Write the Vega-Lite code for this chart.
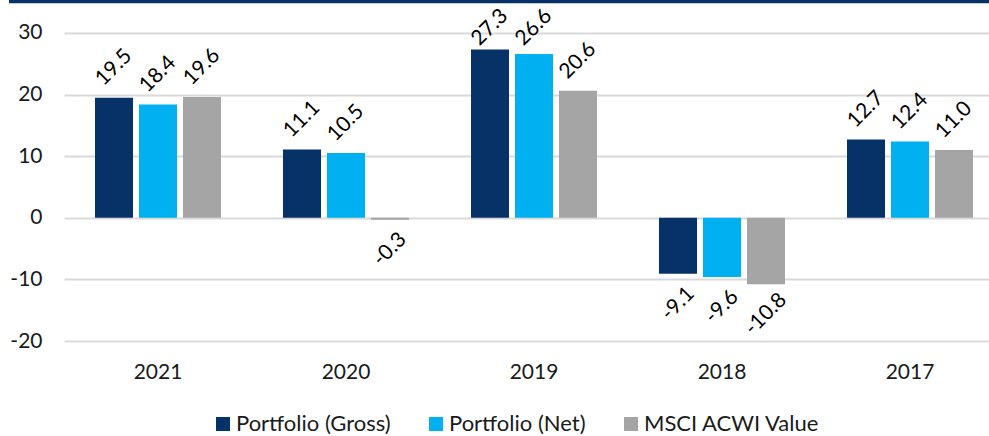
{
  "$schema": "https://vega.github.io/schema/vega-lite/v6.json",
  "width": 940,
  "height": 341,
  "autosize": {"type": "none"},
  "padding": {"left": 64, "top": 0, "right": -15, "bottom": 95},
  "background": "white",
  "config": {
    "view": {"stroke": null},
    "font": "Lato",
    "locale": {"number": {"decimal": ".", "thousands": ",", "grouping": [3], "currency": ["$", ""], "minus": "-"}},
    "axis": {"labelFont": "Lato", "labelColor": "#1a1a1a"},
    "legend": {"labelFont": "Lato"}
  },
  "data": {
    "values": [
      {"year": "2021", "series": "Portfolio (Gross)", "value": 19.5},
      {"year": "2021", "series": "Portfolio (Net)", "value": 18.4},
      {"year": "2021", "series": "MSCI ACWI Value", "value": 19.6},
      {"year": "2020", "series": "Portfolio (Gross)", "value": 11.1},
      {"year": "2020", "series": "Portfolio (Net)", "value": 10.5},
      {"year": "2020", "series": "MSCI ACWI Value", "value": -0.3},
      {"year": "2019", "series": "Portfolio (Gross)", "value": 27.3},
      {"year": "2019", "series": "Portfolio (Net)", "value": 26.6},
      {"year": "2019", "series": "MSCI ACWI Value", "value": 20.6},
      {"year": "2018", "series": "Portfolio (Gross)", "value": -9.1},
      {"year": "2018", "series": "Portfolio (Net)", "value": -9.6},
      {"year": "2018", "series": "MSCI ACWI Value", "value": -10.8},
      {"year": "2017", "series": "Portfolio (Gross)", "value": 12.7},
      {"year": "2017", "series": "Portfolio (Net)", "value": 12.4},
      {"year": "2017", "series": "MSCI ACWI Value", "value": 11.0}
    ]
  },
  "encoding": {
    "x": {
      "field": "year",
      "type": "nominal",
      "sort": ["2021", "2020", "2019", "2018", "2017"],
      "scale": {"paddingInner": 0, "paddingOuter": 0},
      "axis": {
        "title": null,
        "labelAngle": 0,
        "domain": false,
        "ticks": false,
        "tickSize": 0,
        "labelPadding": 31,
        "labelBaseline": "middle",
        "labelFontSize": 21
      }
    },
    "y": {
      "field": "value",
      "type": "quantitative",
      "scale": {"domain": [-20, 35.35], "nice": false, "zero": false},
      "axis": {
        "title": null,
        "values": [-20, -10, 0, 10, 20, 30],
        "domain": false,
        "ticks": false,
        "tickSize": 0,
        "labelPadding": 22,
        "labelFontSize": 21,
        "gridColor": "#d9d9d9",
        "gridWidth": 2
      }
    }
  },
  "layer": [
    {
      "mark": {"type": "bar", "clip": false},
      "encoding": {
        "xOffset": {
          "field": "series",
          "type": "nominal",
          "sort": ["Portfolio (Gross)", "Portfolio (Net)", "MSCI ACWI Value"],
          "scale": {"paddingInner": 0.136, "paddingOuter": 0.705}
        },
        "color": {
          "field": "series",
          "type": "nominal",
          "sort": ["Portfolio (Gross)", "Portfolio (Net)", "MSCI ACWI Value"],
          "scale": {
            "domain": ["Portfolio (Gross)", "Portfolio (Net)", "MSCI ACWI Value"],
            "range": ["#073267", "#00b0f0", "#a5a5a5"]
          },
          "legend": {
            "title": null,
            "orient": "none",
            "direction": "horizontal",
            "legendX": 148,
            "legendY": 413,
            "padding": 0,
            "symbolType": "square",
            "symbolSize": 196,
            "symbolStrokeWidth": 0,
            "labelFontSize": 22,
            "labelLimit": 400,
            "labelColor": "#1a1a1a",
            "labelOffset": 2,
            "columnPadding": 34
          }
        }
      }
    },
    {
      "transform": [{"filter": "datum.value >= 0 && datum.value <= 26"}],
      "mark": {"type": "text", "clip": false, "angle": 315, "align": "center", "baseline": "middle", "fontSize": 21, "color": "#000000", "yOffset": -30},
      "encoding": {
        "xOffset": {"field": "series", "type": "nominal", "sort": ["Portfolio (Gross)", "Portfolio (Net)", "MSCI ACWI Value"]},
        "text": {"field": "value", "type": "quantitative", "format": ".1f"}
      }
    },
    {
      "transform": [{"filter": "datum.value > 26"}],
      "mark": {"type": "text", "clip": false, "angle": 315, "align": "center", "baseline": "middle", "fontSize": 21, "color": "#000000", "yOffset": -30},
      "encoding": {
        "xOffset": {"field": "series", "type": "nominal", "sort": ["Portfolio (Gross)", "Portfolio (Net)", "MSCI ACWI Value"]},
        "y": {"datum": 26, "type": "quantitative"},
        "text": {"field": "value", "type": "quantitative", "format": ".1f"}
      }
    },
    {
      "transform": [{"filter": "datum.value < 0"}],
      "mark": {"type": "text", "clip": false, "angle": 315, "align": "center", "baseline": "middle", "fontSize": 21, "color": "#000000", "yOffset": 30},
      "encoding": {
        "xOffset": {"field": "series", "type": "nominal", "sort": ["Portfolio (Gross)", "Portfolio (Net)", "MSCI ACWI Value"]},
        "text": {"field": "value", "type": "quantitative", "format": ".1f"}
      }
    },
    {
      "data": {"values": [{"level": 35.1}]},
      "mark": {"type": "rule", "clip": false, "color": "#073267", "strokeWidth": 3.4},
      "encoding": {
        "x": {"datum": "2021", "type": "nominal", "bandPosition": -0.2926},
        "x2": {"value": "width"},
        "y": {"field": "level", "type": "quantitative"}
      }
    }
  ]
}
